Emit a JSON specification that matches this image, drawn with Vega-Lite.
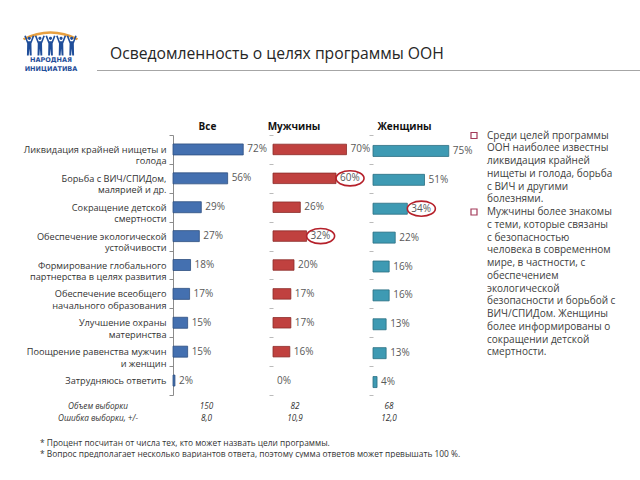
{
  "$schema": "https://vega.github.io/schema/vega-lite/v6.json",
  "padding": 0,
  "background": "white",
  "spacing": 0,
  "bounds": "flush",
  "config": {
    "view": {"stroke": null},
    "font": "Open Sans"
  },
  "datasets": {
    "goals": [
      {"goal": "Ликвидация крайней нищеты и|голода", "group": "Все", "value": 0.72, "circled": false},
      {"goal": "Борьба с ВИЧ/СПИДом,|малярией и др.", "group": "Все", "value": 0.56, "circled": false},
      {"goal": "Сокращение детской|смертности", "group": "Все", "value": 0.29, "circled": false},
      {"goal": "Обеспечение экологической|устойчивости", "group": "Все", "value": 0.27, "circled": false},
      {"goal": "Формирование глобального|партнерства в целях развития", "group": "Все", "value": 0.18, "circled": false},
      {"goal": "Обеспечение всеобщего|начального образования", "group": "Все", "value": 0.17, "circled": false},
      {"goal": "Улучшение охраны|материнства", "group": "Все", "value": 0.15, "circled": false},
      {"goal": "Поощрение равенства мужчин|и женщин", "group": "Все", "value": 0.15, "circled": false},
      {"goal": "Затрудняюсь ответить", "group": "Все", "value": 0.02, "circled": false},
      {"goal": "Ликвидация крайней нищеты и|голода", "group": "Мужчины", "value": 0.70, "circled": false},
      {"goal": "Борьба с ВИЧ/СПИДом,|малярией и др.", "group": "Мужчины", "value": 0.60, "circled": true},
      {"goal": "Сокращение детской|смертности", "group": "Мужчины", "value": 0.26, "circled": false},
      {"goal": "Обеспечение экологической|устойчивости", "group": "Мужчины", "value": 0.32, "circled": true},
      {"goal": "Формирование глобального|партнерства в целях развития", "group": "Мужчины", "value": 0.20, "circled": false},
      {"goal": "Обеспечение всеобщего|начального образования", "group": "Мужчины", "value": 0.17, "circled": false},
      {"goal": "Улучшение охраны|материнства", "group": "Мужчины", "value": 0.17, "circled": false},
      {"goal": "Поощрение равенства мужчин|и женщин", "group": "Мужчины", "value": 0.16, "circled": false},
      {"goal": "Затрудняюсь ответить", "group": "Мужчины", "value": 0.0, "circled": false},
      {"goal": "Ликвидация крайней нищеты и|голода", "group": "Женщины", "value": 0.75, "circled": false},
      {"goal": "Борьба с ВИЧ/СПИДом,|малярией и др.", "group": "Женщины", "value": 0.51, "circled": false},
      {"goal": "Сокращение детской|смертности", "group": "Женщины", "value": 0.34, "circled": true},
      {"goal": "Обеспечение экологической|устойчивости", "group": "Женщины", "value": 0.22, "circled": false},
      {"goal": "Формирование глобального|партнерства в целях развития", "group": "Женщины", "value": 0.16, "circled": false},
      {"goal": "Обеспечение всеобщего|начального образования", "group": "Женщины", "value": 0.16, "circled": false},
      {"goal": "Улучшение охраны|материнства", "group": "Женщины", "value": 0.13, "circled": false},
      {"goal": "Поощрение равенства мужчин|и женщин", "group": "Женщины", "value": 0.13, "circled": false},
      {"goal": "Затрудняюсь ответить", "group": "Женщины", "value": 0.04, "circled": false}
    ],
    "sample": [
      {"group": "Все", "n": "150", "err": "8,0"},
      {"group": "Мужчины", "n": "82", "err": "10,9"},
      {"group": "Женщины", "n": "68", "err": "12,0"}
    ],
    "notes": [
      {"line": 1, "text": "Среди целей программы", "bullet": true},
      {"line": 2, "text": "ООН наиболее известны", "bullet": false},
      {"line": 3, "text": "ликвидация крайней", "bullet": false},
      {"line": 4, "text": "нищеты и голода, борьба", "bullet": false},
      {"line": 5, "text": "с ВИЧ и другими", "bullet": false},
      {"line": 6, "text": "болезнями.", "bullet": false},
      {"line": 7, "text": "Мужчины более знакомы", "bullet": true},
      {"line": 8, "text": "с теми, которые связаны", "bullet": false},
      {"line": 9, "text": "с безопасностью", "bullet": false},
      {"line": 10, "text": "человека в современном", "bullet": false},
      {"line": 11, "text": "мире, в частности, с", "bullet": false},
      {"line": 12, "text": "обеспечением", "bullet": false},
      {"line": 13, "text": "экологической", "bullet": false},
      {"line": 14, "text": "безопасности и борьбой с", "bullet": false},
      {"line": 15, "text": "ВИЧ/СПИДом. Женщины", "bullet": false},
      {"line": 16, "text": "более информированы о", "bullet": false},
      {"line": 17, "text": "сокращении детской", "bullet": false},
      {"line": 18, "text": "смертности.", "bullet": false}
    ]
  },
  "hconcat": [
    {
      "width": 100,
      "height": 260,
      "layer": [
        {
          "data": {"name": "goals"},
          "transform": [{"filter": "datum.group === 'Все'"}],
          "mark": {"type": "bar", "height": 11, "fill": "#4470B0", "stroke": "#2E4F80", "strokeWidth": 0.8},
          "encoding": {
            "y": {"field": "goal", "type": "nominal", "sort": null, "scale": {"paddingInner": 0, "paddingOuter": 0},
              "axis": {"title": null, "domainColor": "#8C8C8C", "tickColor": "#8C8C8C", "tickSize": 4, "tickBand": "extent", "labelPadding": 3, "labelFont": "Open Sans", "labelFontSize": 9.2, "labelColor": "#333333", "labelLimit": 170, "labelLineHeight": 11.5, "labelExpr": "isValid(datum.value) ? split(datum.value, '|') : ''"}},
            "x": {"field": "value", "type": "quantitative", "scale": {"domain": [0, 1.025], "nice": false, "zero": true}, "axis": null}
          }
        },
        {
          "data": {"name": "goals"},
          "transform": [{"filter": "datum.group === 'Все'"}],
          "mark": {"type": "text", "align": "left", "baseline": "middle", "dx": 4, "font": "Open Sans", "fontSize": 10, "fill": "#595959"},
          "encoding": {
            "y": {"field": "goal", "type": "nominal", "sort": null},
            "x": {"field": "value", "type": "quantitative"},
            "text": {"field": "value", "type": "quantitative", "format": ".0%"}
          }
        },
        {
          "data": {"values": [{}]},
          "mark": {"type": "point", "shape": "square", "size": 1, "filled": true, "opacity": 0, "strokeWidth": 0, "xOffset": -222.5, "yOffset": -264},
          "encoding": {}
        },
        {
          "data": {"values": [{}]},
          "mark": {"type": "point", "shape": "M-1,0 L1,0", "size": 294849, "filled": false, "stroke": "#A6A6A6", "strokeWidth": 1, "opacity": 1, "xOffset": 145.5, "yOffset": -194.5},
          "encoding": {}
        },
        {
          "data": {"values": [{}]},
          "mark": {"type": "point", "shape": "M-1,0.15 Q0,-0.35 1,0.15", "size": 2916, "filled": false, "stroke": "#E8A040", "strokeWidth": 2.5, "opacity": 1, "xOffset": -172.5, "yOffset": -229.8},
          "encoding": {}
        },
        {
          "data": {"values": [{}]},
          "mark": {"type": "point", "shape": "M-0.99,-0.36 L-0.93,-0.38 L-0.85,-0.16 L-0.75,-0.16 L-0.67,-0.38 L-0.61,-0.36 L-0.72,-0.08 L-0.71,0.38 L-0.78,0.38 L-0.8,0.12 L-0.82,0.38 L-0.89,0.38 L-0.88,-0.08 Z M-0.86,-0.27 A0.06,0.06 0 1,0 -0.74,-0.27 A0.06,0.06 0 1,0 -0.86,-0.27 Z M-0.59,-0.36 L-0.53,-0.38 L-0.45,-0.16 L-0.35,-0.16 L-0.27,-0.38 L-0.21,-0.36 L-0.32,-0.08 L-0.31,0.38 L-0.38,0.38 L-0.4,0.12 L-0.42,0.38 L-0.49,0.38 L-0.48,-0.08 Z M-0.46,-0.27 A0.06,0.06 0 1,0 -0.34,-0.27 A0.06,0.06 0 1,0 -0.46,-0.27 Z M-0.19,-0.36 L-0.13,-0.38 L-0.05,-0.16 L0.05,-0.16 L0.13,-0.38 L0.19,-0.36 L0.08,-0.08 L0.09,0.38 L0.02,0.38 L0,0.12 L-0.02,0.38 L-0.09,0.38 L-0.08,-0.08 Z M-0.06,-0.27 A0.06,0.06 0 1,0 0.06,-0.27 A0.06,0.06 0 1,0 -0.06,-0.27 Z M0.21,-0.36 L0.27,-0.38 L0.35,-0.16 L0.45,-0.16 L0.53,-0.38 L0.59,-0.36 L0.48,-0.08 L0.49,0.38 L0.42,0.38 L0.4,0.12 L0.38,0.38 L0.31,0.38 L0.32,-0.08 Z M0.34,-0.27 A0.06,0.06 0 1,0 0.46,-0.27 A0.06,0.06 0 1,0 0.34,-0.27 Z M0.61,-0.36 L0.67,-0.38 L0.75,-0.16 L0.85,-0.16 L0.93,-0.38 L0.99,-0.36 L0.88,-0.08 L0.89,0.38 L0.82,0.38 L0.8,0.12 L0.78,0.38 L0.71,0.38 L0.72,-0.08 Z M0.74,-0.27 A0.06,0.06 0 1,0 0.86,-0.27 A0.06,0.06 0 1,0 0.74,-0.27 Z", "size": 2809, "filled": true, "fill": "#1F4E9A", "strokeWidth": 0, "opacity": 1, "xOffset": -172.5, "yOffset": -219.5},
          "encoding": {}
        },
        {
          "data": {"values": [{}]},
          "mark": {"type": "text", "text": "НАРОДНАЯ", "align": "center", "baseline": "middle", "dx": -172, "dy": -205.2, "font": "DejaVu Sans", "fontWeight": "bold", "fontSize": 6.5, "fill": "#1F4E9A"},
          "encoding": {}
        },
        {
          "data": {"values": [{}]},
          "mark": {"type": "text", "text": "ИНИЦИАТИВА", "align": "center", "baseline": "middle", "dx": -172, "dy": -196.2, "font": "DejaVu Sans", "fontWeight": "bold", "fontSize": 6.5, "fill": "#1F4E9A"},
          "encoding": {}
        },
        {
          "data": {"values": [{}]},
          "mark": {"type": "text", "text": "Осведомленность о целях программы ООН", "align": "left", "baseline": "middle", "dx": -113, "dy": -211.5, "font": "Open Sans", "fontSize": 15.7, "fill": "#262626"},
          "encoding": {}
        },
        {
          "data": {"values": [{}]},
          "mark": {"type": "text", "text": "Все", "align": "center", "baseline": "middle", "dx": -15.5, "dy": -138.5, "font": "Open Sans", "fontWeight": "bold", "fontSize": 10, "fill": "#111111"},
          "encoding": {}
        },
        {
          "data": {"values": [{}]},
          "mark": {"type": "text", "text": "Объем выборки", "align": "center", "baseline": "middle", "dx": -125, "dy": 142, "font": "Open Sans", "fontStyle": "italic", "fontSize": 8.2, "fill": "#333333"},
          "encoding": {}
        },
        {
          "data": {"values": [{}]},
          "mark": {"type": "text", "text": "Ошибка выборки, +/-", "align": "center", "baseline": "middle", "dx": -125, "dy": 153.5, "font": "Open Sans", "fontStyle": "italic", "fontSize": 8.2, "fill": "#333333"},
          "encoding": {}
        },
        {
          "data": {"name": "sample"},
          "transform": [{"filter": "datum.group === 'Все'"}],
          "mark": {"type": "text", "align": "center", "baseline": "middle", "dx": -16.5, "dy": 142, "font": "Open Sans", "fontStyle": "italic", "fontSize": 8.2, "fill": "#333333"},
          "encoding": {"text": {"field": "n"}}
        },
        {
          "data": {"name": "sample"},
          "transform": [{"filter": "datum.group === 'Все'"}],
          "mark": {"type": "text", "align": "center", "baseline": "middle", "dx": -16.5, "dy": 153.5, "font": "Open Sans", "fontStyle": "italic", "fontSize": 8.2, "fill": "#333333"},
          "encoding": {"text": {"field": "err"}}
        },
        {
          "data": {"values": [{}]},
          "mark": {"type": "text", "text": "* Процент посчитан от числа тех, кто может назвать цели программы.", "align": "left", "baseline": "middle", "dx": -183, "dy": 177.5, "font": "Open Sans", "fontSize": 8.4, "fill": "#333333"},
          "encoding": {}
        },
        {
          "data": {"values": [{}]},
          "mark": {"type": "text", "text": "* Вопрос предполагает несколько вариантов ответа, поэтому сумма ответов может превышать 100 %.", "align": "left", "baseline": "middle", "dx": -183, "dy": 188.5, "font": "Open Sans", "fontSize": 8.4, "fill": "#333333"},
          "encoding": {}
        }
      ]
    },
    {
      "width": 100,
      "height": 260,
      "layer": [
        {
          "data": {"name": "goals"},
          "transform": [{"filter": "datum.group === 'Мужчины' && datum.value > 0"}],
          "mark": {"type": "bar", "height": 10.5, "fill": "#C0413F", "stroke": "#8B2C2A", "strokeWidth": 0.8},
          "encoding": {
            "y": {"field": "goal", "type": "nominal", "sort": null, "scale": {"paddingInner": 0, "paddingOuter": 0},
              "axis": {"title": null, "labels": false, "domain": false, "ticks": true, "tickBand": "extent", "tickColor": "#BBBBBB", "tickSize": 4}},
            "x": {"field": "value", "type": "quantitative", "scale": {"domain": [0, 0.952], "nice": false, "zero": true}, "axis": null}
          }
        },
        {
          "data": {"name": "goals"},
          "transform": [{"filter": "datum.group === 'Мужчины'"}],
          "mark": {"type": "text", "align": "left", "baseline": "middle", "dx": 4, "font": "Open Sans", "fontSize": 10, "fill": "#595959"},
          "encoding": {
            "y": {"field": "goal", "type": "nominal", "sort": null},
            "x": {"field": "value", "type": "quantitative"},
            "text": {"field": "value", "type": "quantitative", "format": ".0%"}
          }
        },
        {
          "data": {"name": "goals"},
          "transform": [{"filter": "datum.group === 'Мужчины' && datum.circled"}],
          "mark": {"type": "point", "shape": "M-1,0 A1,0.54 0 1,1 1,0 A1,0.54 0 1,1 -1,0 Z", "size": 784, "filled": false, "stroke": "#B5202A", "strokeWidth": 1.6, "opacity": 1, "xOffset": 14},
          "encoding": {
            "y": {"field": "goal", "type": "nominal", "sort": null},
            "x": {"field": "value", "type": "quantitative"}
          }
        },
        {
          "data": {"values": [{}]},
          "mark": {"type": "text", "text": "Мужчины", "align": "center", "baseline": "middle", "dx": -29, "dy": -138.5, "font": "Open Sans", "fontWeight": "bold", "fontSize": 10, "fill": "#111111"},
          "encoding": {}
        },
        {
          "data": {"name": "sample"},
          "transform": [{"filter": "datum.group === 'Мужчины'"}],
          "mark": {"type": "text", "align": "center", "baseline": "middle", "dx": -28, "dy": 142, "font": "Open Sans", "fontStyle": "italic", "fontSize": 8.2, "fill": "#333333"},
          "encoding": {"text": {"field": "n"}}
        },
        {
          "data": {"name": "sample"},
          "transform": [{"filter": "datum.group === 'Мужчины'"}],
          "mark": {"type": "text", "align": "center", "baseline": "middle", "dx": -28, "dy": 153.5, "font": "Open Sans", "fontStyle": "italic", "fontSize": 8.2, "fill": "#333333"},
          "encoding": {"text": {"field": "err"}}
        }
      ]
    },
    {
      "width": 100,
      "height": 260,
      "layer": [
        {
          "data": {"name": "goals"},
          "transform": [{"filter": "datum.group === 'Женщины'"}],
          "mark": {"type": "bar", "height": 11, "yOffset": 1.5, "fill": "#3E9AB3", "stroke": "#2B6F82", "strokeWidth": 0.8},
          "encoding": {
            "y": {"field": "goal", "type": "nominal", "sort": null, "scale": {"paddingInner": 0, "paddingOuter": 0},
              "axis": {"title": null, "labels": false, "domain": false, "ticks": true, "tickBand": "extent", "tickColor": "#BBBBBB", "tickSize": 4}},
            "x": {"field": "value", "type": "quantitative", "scale": {"domain": [0, 0.99], "nice": false, "zero": true}, "axis": null}
          }
        },
        {
          "data": {"name": "goals"},
          "transform": [{"filter": "datum.group === 'Женщины'"}],
          "mark": {"type": "text", "align": "left", "baseline": "middle", "dx": 4, "dy": 1.5, "font": "Open Sans", "fontSize": 10, "fill": "#595959"},
          "encoding": {
            "y": {"field": "goal", "type": "nominal", "sort": null},
            "x": {"field": "value", "type": "quantitative"},
            "text": {"field": "value", "type": "quantitative", "format": ".0%"}
          }
        },
        {
          "data": {"name": "goals"},
          "transform": [{"filter": "datum.group === 'Женщины' && datum.circled"}],
          "mark": {"type": "point", "shape": "M-1,0 A1,0.54 0 1,1 1,0 A1,0.54 0 1,1 -1,0 Z", "size": 784, "filled": false, "stroke": "#B5202A", "strokeWidth": 1.6, "opacity": 1, "xOffset": 14, "yOffset": 1.5},
          "encoding": {
            "y": {"field": "goal", "type": "nominal", "sort": null},
            "x": {"field": "value", "type": "quantitative"}
          }
        },
        {
          "data": {"values": [{}]},
          "mark": {"type": "text", "text": "Женщины", "align": "center", "baseline": "middle", "dx": -18.5, "dy": -138.5, "font": "Open Sans", "fontWeight": "bold", "fontSize": 10, "fill": "#111111"},
          "encoding": {}
        },
        {
          "data": {"name": "sample"},
          "transform": [{"filter": "datum.group === 'Женщины'"}],
          "mark": {"type": "text", "align": "center", "baseline": "middle", "dx": -34, "dy": 142, "font": "Open Sans", "fontStyle": "italic", "fontSize": 8.2, "fill": "#333333"},
          "encoding": {"text": {"field": "n"}}
        },
        {
          "data": {"name": "sample"},
          "transform": [{"filter": "datum.group === 'Женщины'"}],
          "mark": {"type": "text", "align": "center", "baseline": "middle", "dx": -34, "dy": 153.5, "font": "Open Sans", "fontStyle": "italic", "fontSize": 8.2, "fill": "#333333"},
          "encoding": {"text": {"field": "err"}}
        }
      ]
    },
    {
      "width": 167,
      "height": 260,
      "layer": [
        {
          "data": {"name": "notes"},
          "mark": {"type": "text", "align": "left", "baseline": "middle", "dx": -69.5, "font": "Open Sans", "fontSize": 10, "fill": "#404040"},
          "encoding": {
            "y": {"field": "line", "type": "quantitative", "scale": {"domain": [0.96, 21.35], "reverse": true, "nice": false, "zero": false}, "axis": null},
            "text": {"field": "text"}
          }
        },
        {
          "data": {"name": "notes"},
          "transform": [{"filter": "datum.bullet"}],
          "mark": {"type": "point", "shape": "square", "size": 36, "filled": false, "stroke": "#A33B5A", "strokeWidth": 1.2, "opacity": 1, "xOffset": -82.5},
          "encoding": {
            "y": {"field": "line", "type": "quantitative", "axis": null}
          }
        }
      ]
    }
  ]
}
